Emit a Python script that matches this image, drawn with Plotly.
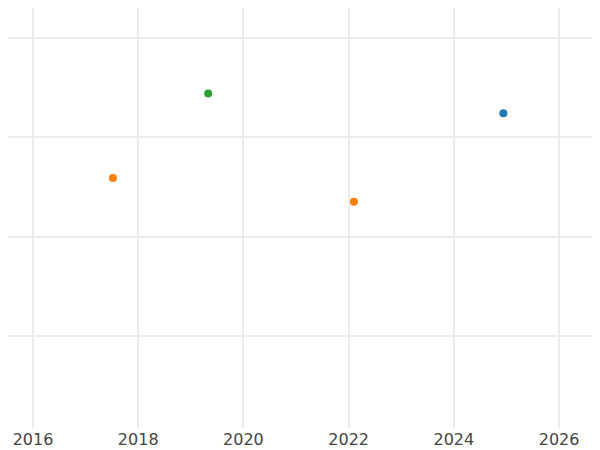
import plotly.graph_objects as go

blue_x = [2024.94]
blue_y = [3.24]
orange_x = [2017.52, 2022.1]
orange_y = [2.59, 2.35]
green_x = [2019.33]
green_y = [3.44]
x_ticks = [2016, 2018, 2020, 2022, 2024, 2026]

fig = go.Figure()
for xs, ys, c in [(blue_x, blue_y, "#1f77b4"), (orange_x, orange_y, "#ff7f0e"), (green_x, green_y, "#2ca02c")]:
    fig.add_trace(go.Scatter(x=xs, y=ys, mode="markers", marker=dict(color=c, size=8), showlegend=False))

fig.update_layout(
    width=600, height=450, margin=dict(l=0, r=0, t=0, b=30),
    plot_bgcolor="white", paper_bgcolor="white",
    font=dict(family="DejaVu Sans", size=16, color="#444"),
)
fig.update_xaxes(range=[2015.525, 2026.93], tickvals=x_ticks, gridcolor="#ebebeb", gridwidth=2,
                 showline=False, zeroline=False, ticks="", automargin=False)
fig.update_yaxes(range=[0.074, 4.30], tickvals=[1, 2, 3, 4], showticklabels=False, gridcolor="#ebebeb",
                 gridwidth=1.5, zeroline=False, automargin=False)
fig.write_html("out.html")
